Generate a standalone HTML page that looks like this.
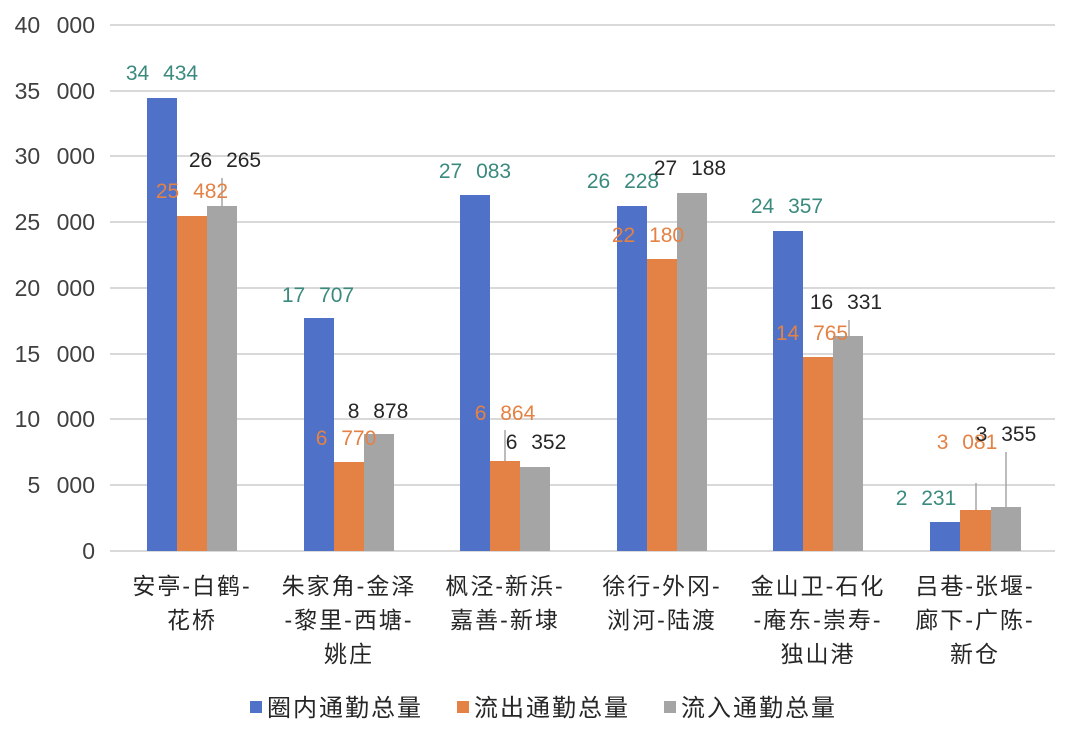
<!DOCTYPE html>
<html><head><meta charset="utf-8"><style>
html,body{margin:0;padding:0;background:#fff;}
svg text{font-family:"Liberation Sans","Noto Sans CJK SC",sans-serif;}
</style></head><body>
<svg width="1080" height="741" viewBox="0 0 1080 741" xmlns="http://www.w3.org/2000/svg">
<g stroke="#d9d9d9" stroke-width="2">
<line x1="110" x2="1055" y1="25" y2="25"/>
<line x1="110" x2="1055" y1="91" y2="91"/>
<line x1="110" x2="1055" y1="156" y2="156"/>
<line x1="110" x2="1055" y1="222" y2="222"/>
<line x1="110" x2="1055" y1="288" y2="288"/>
<line x1="110" x2="1055" y1="354" y2="354"/>
<line x1="110" x2="1055" y1="419" y2="419"/>
<line x1="110" x2="1055" y1="485" y2="485"/>
<line x1="110" x2="1055" y1="551" y2="551"/>
</g>
<g font-size="23" fill="#404040" text-anchor="end" word-spacing="10">
<text x="95" y="33">40 000</text>
<text x="95" y="99">35 000</text>
<text x="95" y="164">30 000</text>
<text x="95" y="230">25 000</text>
<text x="95" y="296">20 000</text>
<text x="95" y="362">15 000</text>
<text x="95" y="427">10 000</text>
<text x="95" y="493">5 000</text>
<text x="95" y="559">0</text>
</g>
<g>
<rect x="147" y="98" width="30" height="453" fill="#4f71c7"/>
<rect x="177" y="216" width="30" height="335" fill="#e38244"/>
<rect x="207" y="206" width="30" height="345" fill="#a5a5a5"/>

<rect x="304" y="318" width="30" height="233" fill="#4f71c7"/>
<rect x="334" y="462" width="30" height="89" fill="#e38244"/>
<rect x="364" y="434" width="30" height="117" fill="#a5a5a5"/>

<rect x="460" y="195" width="30" height="356" fill="#4f71c7"/>
<rect x="490" y="461" width="30" height="90" fill="#e38244"/>
<rect x="520" y="467" width="30" height="84" fill="#a5a5a5"/>

<rect x="617" y="206" width="30" height="345" fill="#4f71c7"/>
<rect x="647" y="259" width="30" height="292" fill="#e38244"/>
<rect x="677" y="193" width="30" height="358" fill="#a5a5a5"/>

<rect x="773" y="231" width="30" height="320" fill="#4f71c7"/>
<rect x="803" y="357" width="30" height="194" fill="#e38244"/>
<rect x="833" y="336" width="30" height="215" fill="#a5a5a5"/>

<rect x="930" y="522" width="30" height="29" fill="#4f71c7"/>
<rect x="960" y="510" width="31" height="41" fill="#e38244"/>
<rect x="991" y="507" width="30" height="44" fill="#a5a5a5"/>
</g>
<g stroke="#a5a5a5" stroke-width="1.5">
<line x1="222" x2="222" y1="178" y2="206"/>
<line x1="505" x2="505" y1="430" y2="461"/>
<line x1="849" x2="849" y1="320" y2="336"/>
<line x1="976" x2="976" y1="483" y2="510"/>
<line x1="1006" x2="1006" y1="452" y2="507"/>
</g>
<g font-size="21" text-anchor="middle" word-spacing="8">
<text x="162" y="80" fill="#3a8a7e">34 434</text>
<text x="192" y="198" fill="#e38244">25 482</text>
<text x="225" y="167" fill="#262626">26 265</text>
<text x="318" y="302" fill="#3a8a7e">17 707</text>
<text x="346" y="445" fill="#e38244">6 770</text>
<text x="378" y="418" fill="#262626">8 878</text>
<text x="475" y="178" fill="#3a8a7e">27 083</text>
<text x="505" y="420" fill="#e38244">6 864</text>
<text x="536" y="449" fill="#262626">6 352</text>
<text x="623" y="188" fill="#3a8a7e">26 228</text>
<text x="648" y="242" fill="#e38244">22 180</text>
<text x="690" y="175" fill="#262626">27 188</text>
<text x="787" y="213" fill="#3a8a7e">24 357</text>
<text x="812" y="340" fill="#e38244">14 765</text>
<text x="846" y="309" fill="#262626">16 331</text>
<text x="926" y="505" fill="#3a8a7e">2 231</text>
<text x="967" y="449" fill="#e38244">3 081</text>
<text x="1006" y="441" fill="#262626">3 355</text>
</g>
<g font-size="23" fill="#262626" text-anchor="middle" letter-spacing="2">
<text x="192" y="594">安亭-白鹤-</text>
<text x="192" y="628">花桥</text>
<text x="349" y="594">朱家角-金泽</text>
<text x="349" y="628">-黎里-西塘-</text>
<text x="349" y="662">姚庄</text>
<text x="505" y="594">枫泾-新浜-</text>
<text x="505" y="628">嘉善-新埭</text>
<text x="662" y="594">徐行-外冈-</text>
<text x="662" y="628">浏河-陆渡</text>
<text x="818" y="594">金山卫-石化</text>
<text x="818" y="628">-庵东-崇寿-</text>
<text x="818" y="662">独山港</text>
<text x="975" y="594">吕巷-张堰-</text>
<text x="975" y="628">廊下-广陈-</text>
<text x="975" y="662">新仓</text>
</g>
<g font-size="24" fill="#262626" letter-spacing="2">
<rect x="250" y="701" width="12" height="12" fill="#4f71c7"/>
<text x="267" y="716">圈内通勤总量</text>
<rect x="457" y="701" width="12" height="12" fill="#e38244"/>
<text x="474" y="716">流出通勤总量</text>
<rect x="664" y="701" width="12" height="12" fill="#a5a5a5"/>
<text x="681" y="716">流入通勤总量</text>
</g>
</svg>
</body></html>
